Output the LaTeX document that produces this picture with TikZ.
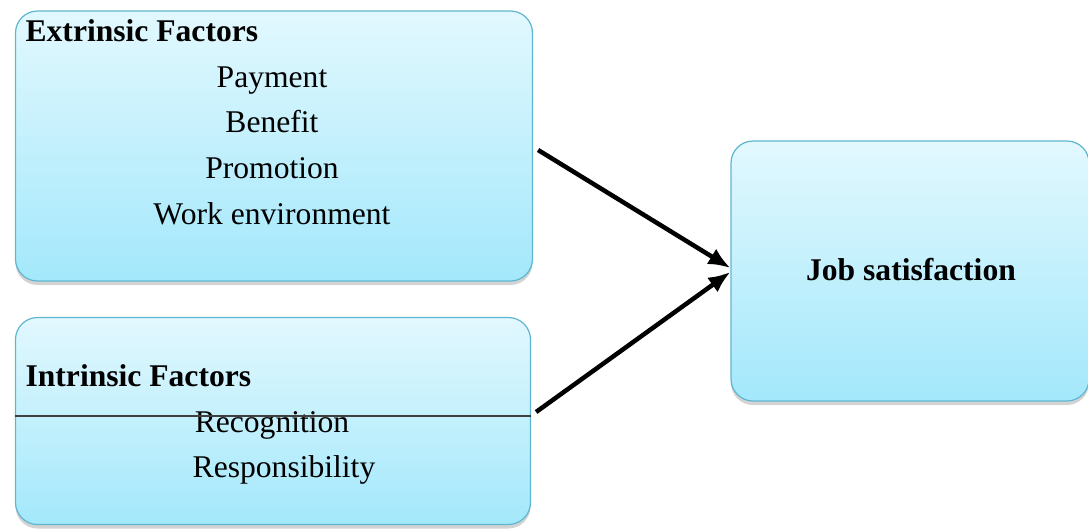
\documentclass[tikz,border=0pt]{standalone}
\usepackage{fontspec}
\setmainfont{Liberation Serif}
\usepackage{tikz}
\usetikzlibrary{arrows.meta}
\usetikzlibrary{positioning}
\usetikzlibrary{shadows}
\tikzset{>=latex}
\definecolor{boxtop}{RGB}{226,248,254}
\definecolor{boxbot}{RGB}{163,232,251}
\definecolor{boxline}{RGB}{95,182,208}
\tikzstyle{factorbox}=[draw=boxline,line width=1.2pt,rounded corners=22pt,top color=boxtop,bottom color=boxbot,drop shadow={shadow xshift=0pt,shadow yshift=-4pt,opacity=0.35}]
\tikzstyle{item}=[inner sep=0,anchor=base,font=\fontsize{31.6}{38}\selectfont]
\tikzstyle{head}=[inner sep=0,anchor=base west,font=\fontsize{31.6}{38}\selectfont\bfseries]

\begin{document}
\begin{tikzpicture}[x=1pt,y=-1pt,very thick]
	\useasboundingbox (0,0) rectangle (1088,531);
	% boxes
	\node[factorbox,minimum width=517pt,minimum height=270pt] (ext) at (274,146) {};
	\node[factorbox,minimum width=515pt,minimum height=207pt] (intr) at (273,421) {};
	\node[factorbox,minimum width=358pt,minimum height=260pt] (job) at (910,271) {};
	% texts
	\node[head] (exthead) at (25,41) {Extrinsic Factors};
	\node[item] (pay) at (272,87) {Payment};
	\node[item] (ben) at (272,132) {Benefit};
	\node[item] (prom) at (272,178) {Promotion};
	\node[item] (work) at (272,224) {Work environment};
	\node[head] (inthead) at (25,386) {Intrinsic Factors};
	\node[item] (rec) at (272,432) {Recognition};
	\node[item] (resp) at (284,477) {Responsibility};
	\node[item,font=\fontsize{31.6}{38}\selectfont\bfseries] (jobtxt) at (911,280) {Job satisfaction};
	% line across the lower box
	\draw[line width=1.5pt,black!75] (intr.west |- 0,416) -- (intr.east |- 0,416);
	% arrows
	\draw[-{Latex[length=22pt,width=18pt]},line width=4.5pt] ([xshift=5pt,yshift=-4pt]ext.east) -- ([yshift=3pt]job.west);
	\draw[-{Latex[length=22pt,width=18pt]},line width=4.5pt] ([xshift=5pt,yshift=9pt]intr.east) -- ([yshift=-1pt]job.west);
\end{tikzpicture}
\end{document}
